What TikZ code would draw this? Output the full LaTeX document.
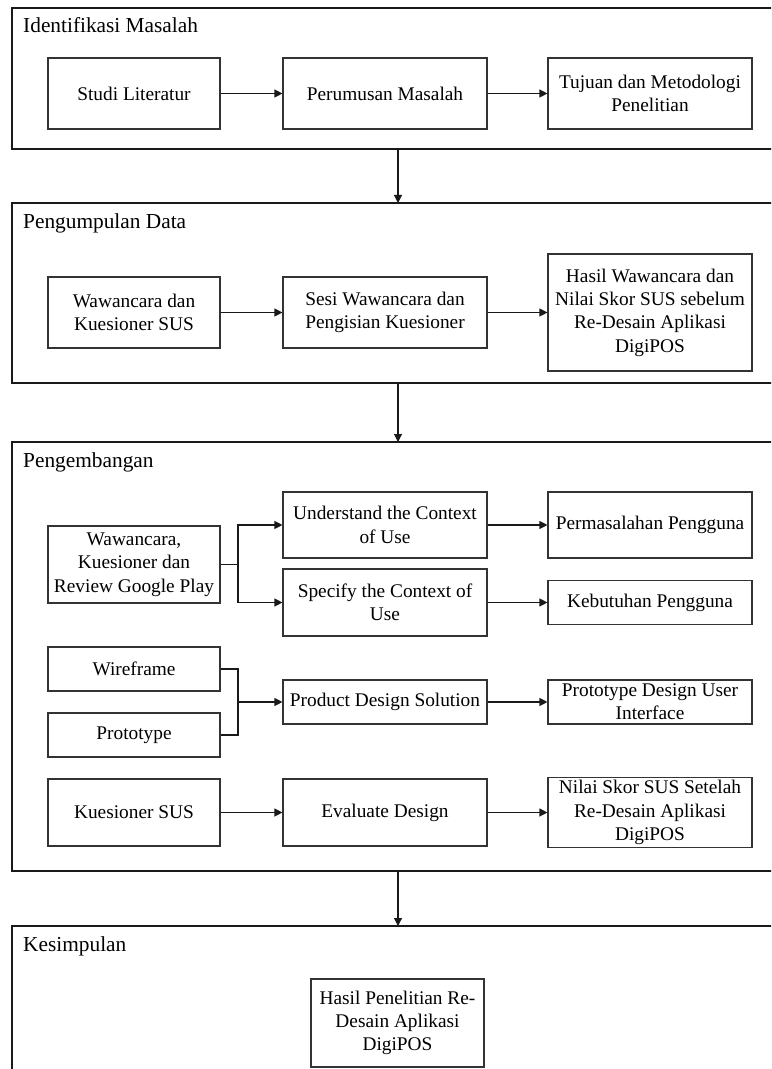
\documentclass[tikz,border=0pt]{standalone}
\usepackage{fontspec}
\setmainfont{Liberation Serif}
\usetikzlibrary{arrows.meta,positioning}
\begin{document}
\begin{tikzpicture}[x=0.75pt,y=-0.75pt,line width=0.85pt,draw=black!90,
          every node/.style={inner sep=2pt},
          >={Triangle[width=6pt,length=6pt]},
          box/.style={draw=black!80,align=center,font=\fontsize{14.5}{17.5}\selectfont},
          wa/.style={minimum width=129pt},
          wb/.style={minimum width=153pt},
          ttl/.style={anchor=base west,font=\fontsize{16}{19}\selectfont}]
          \useasboundingbox(0,0)rectangle(771,1069);
          \clip(0,0)rectangle(771,1069);
          % frames
          \draw(12,8)rectangle(790,149)(12,203)rectangle(790,383)
             (12,442)rectangle(790,871)(12,926)rectangle(790,1100);
          \node[ttl](t1)at(20,33){Identifikasi Masalah};
          \node[ttl](t2)at(20,229){Pengumpulan Data};
          \node[ttl](t3)at(20,467){Pengembangan};
          \node[ttl](t4)at(20,951){Kesimpulan};
          \coordinate(f1s)at(398,149);\coordinate(f2n)at(398,203);
          \coordinate(f2s)at(398,383);\coordinate(f3n)at(398,442);
          \coordinate(f3s)at(398,871);\coordinate(f4n)at(398,926);
          \draw[->](f1s)--(f2n);\draw[->](f2s)--(f3n);\draw[->](f3s)--(f4n);
          % identifikasi
          \node[box,wa,minimum height=53.25pt](sl)at(134,93.5){Studi Literatur};
          \node[box,wb,minimum height=53.25pt](pm)at(385,93.5){Perumusan Masalah};
          \node[box,wb,minimum height=53.25pt](tm)at(650,93.5){Tujuan dan Metodologi\\Penelitian};
          \draw[->](sl)--(pm);\draw[->](pm)--(tm);
          % pengumpulan
          \node[box,wa,minimum height=53.25pt](wk)at(134,312.5){Wawancara dan\\Kuesioner SUS};
          \node[box,wb,minimum height=53.25pt](sw)at(385,312.5){Sesi Wawancara dan\\Pengisian Kuesioner};
          \node[box,wb,minimum height=87.75pt](hw)at(650,312.5){Hasil Wawancara dan\\Nilai Skor SUS sebelum\\Re-Desain Aplikasi\\DigiPOS};
          \draw[->](wk)--(sw);\draw[->](sw)--(hw);
          % pengembangan
          \node[box,wa,minimum height=57.75pt](wkr)at(134,564.5){Wawancara,\\Kuesioner dan\\Review Google Play};
          \node[box,wb,minimum height=49.5pt](ucu)at(385,525){Understand the Context\\of Use};
          \node[box,wb,minimum height=49.5pt](pmp)at(650,525){Permasalahan Pengguna};
          \node[box,wb,minimum height=50.25pt](scu)at(385,602.5){Specify the Context of\\Use};
          \node[box,wb,minimum height=33pt](kbp)at(650,602.5){Kebutuhan Pengguna};
          \coordinate(ja)at(238,564.5);
          \draw(wkr)--(ja);
          \draw[->](ja)|-(ucu);\draw[->](ja)|-(scu);
          \draw[->](ucu)--(pmp);\draw[->](scu)--(kbp);
          \node[box,wa,minimum height=33pt](wf)at(134,669){Wireframe};
          \node[box,wa,minimum height=33pt](pt)at(134,735){Prototype};
          \node[box,wb,minimum height=33pt](pds)at(385,702){Product Design Solution};
          \node[box,wb,minimum height=33pt](pdu)at(650,702){Prototype Design User\\Interface};
          \coordinate(jb)at(238,702);
          \draw(wf)-|(jb);\draw(pt)-|(jb);
          \draw[->](jb)--(pds);\draw[->](pds)--(pdu);
          \node[box,wa,minimum height=50.25pt](ks)at(134,812.5){Kuesioner SUS};
          \node[box,wb,minimum height=50.25pt](ed)at(385,812.5){Evaluate Design};
          \node[box,wb,minimum height=50.25pt](ns)at(650,812.5){Nilai Skor SUS Setelah\\Re-Desain Aplikasi\\DigiPOS};
          \draw[->](ks)--(ed);\draw[->](ed)--(ns);
          % kesimpulan
          \node[box,minimum width=129.75pt,minimum height=66pt](hp)at(397.5,1023){Hasil Penelitian Re-\\Desain Aplikasi\\DigiPOS};
        \end{tikzpicture}
\end{document}
